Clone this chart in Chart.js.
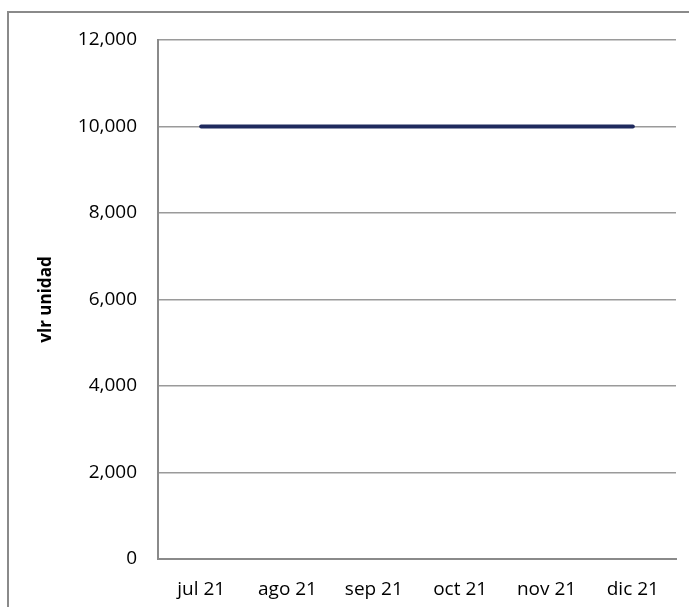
<!DOCTYPE html>
<html>
<head>
<meta charset="utf-8">
<script src="https://cdn.jsdelivr.net/npm/chart.js@4/dist/chart.umd.min.js"></script>
<style>
  html, body { margin: 0; padding: 0; background: #fff; }
  #wrap { position: relative; width: 689px; height: 607px; overflow: hidden; }
  #frame {
    position: absolute; left: 7px; top: 11px; width: 700px; height: 620px;
    border-top: 2px solid #8a8a8a; border-left: 2px solid #8a8a8a;
    box-sizing: border-box;
  }
  #chart { position: absolute; left: 0; top: 0; }
</style>
</head>
<body>
<div id="wrap">
  <div id="frame"></div>
  <canvas id="chart" width="689" height="607"></canvas>
</div>
<script>
// Monthly unit value, second half of 2021
const months = ['jul 21', 'ago 21', 'sep 21', 'oct 21', 'nov 21', 'dic 21'];
const unitValues = [10000, 10000, 10000, 10000, 10000, 10000];
const yTicks = { min: 0, max: 12000, step: 2000 };
const yTitle = 'vlr unidad';

const FONT = "'Open Sans', 'Liberation Sans', sans-serif";

new Chart(document.getElementById('chart'), {
  type: 'line',
  data: {
    labels: months,
    datasets: [{
      data: unitValues,
      borderColor: '#1f2a5e',
      borderWidth: 4,
      borderCapStyle: 'round',
      pointRadius: 0,
      tension: 0,
      fill: false
    }]
  },
  options: {
    responsive: false,
    animation: false,
    devicePixelRatio: 1,
    layout: { padding: { top: 40, right: 13, left: 0, bottom: 0 } },
    plugins: { legend: { display: false }, tooltip: { enabled: false } },
    scales: {
      x: {
        offset: true,
        grid: { display: false, drawTicks: false },
        border: { display: true, color: '#8a8a8a', width: 2 },
        ticks: { color: '#000', font: { family: FONT, size: 19 }, padding: 19, maxRotation: 0 },
        afterFit: (s) => { s.height = 48; }
      },
      y: {
        min: yTicks.min,
        max: yTicks.max,
        grid: { color: '#9a9a9a', lineWidth: 1.5, drawTicks: false },
        border: { display: true, color: '#8a8a8a', width: 2 },
        ticks: {
          stepSize: yTicks.step,
          color: '#000',
          font: { family: FONT, size: 19 },
          padding: 21,
          callback: (v) => v.toLocaleString('en-US')
        },
        title: {
          display: true,
          text: yTitle,
          color: '#000',
          font: { family: FONT, size: 17, weight: 'bold' },
          padding: { top: 36, bottom: 0 }
        },
        afterFit: (s) => { s.width = 158; }
      }
    }
  }
});
</script>
</body>
</html>
